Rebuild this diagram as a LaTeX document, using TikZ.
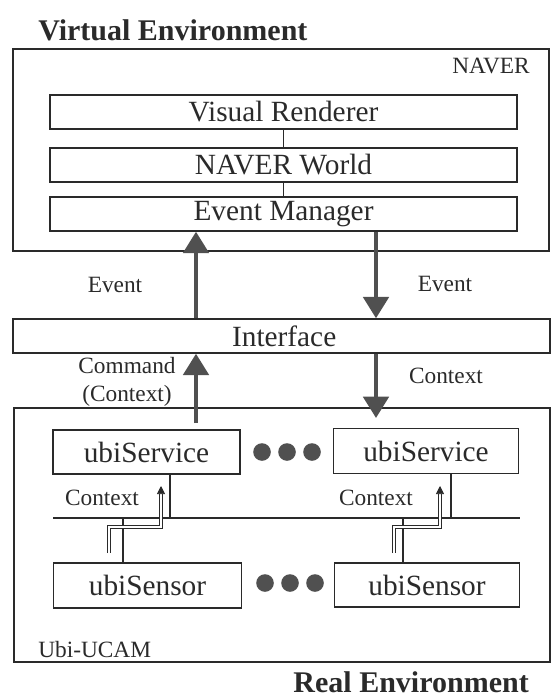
\documentclass[tikz,border=0pt]{standalone}
\usepackage{fontspec}
\setmainfont{Liberation Serif}
\usetikzlibrary{arrows.meta,calc}
\definecolor{ink}{HTML}{2A2A2A}
\definecolor{arrowgray}{HTML}{505050}
\begin{document}
\begin{tikzpicture}[x=0.75pt,y=-0.75pt,
  box/.style={draw=ink, line width=1.1pt, inner sep=0pt, text=ink,
    font=\fontsize{22}{26}\selectfont},
  outer/.style={draw=ink, line width=1.1pt, inner sep=0pt},
  lbl/.style={inner sep=0pt, text=ink, font=\fontsize{17.5}{21.5}\selectfont},
  heading/.style={inner sep=0pt, text=ink, font=\fontsize{22.5}{27}\selectfont\bfseries},
  bigarrow/.style={draw=arrowgray, line width=3pt, -{Triangle[width=19pt,length=16pt]}},
  wire/.style={draw=ink, line width=1.1pt},
  bus/.style={draw=ink, line width=1.7pt},
  ctx/.style={draw=ink, line width=0.5pt, double=white, double distance=1.3pt,
    -{Triangle[width=6pt,length=6pt]}},
  dot/.style={fill=arrowgray}
]
\useasboundingbox (0,0) rectangle (551,699);

% titles
\node[heading, anchor=west] (vtitle) at (38,30) {Virtual Environment};
\node[heading, anchor=east] (rtitle) at (529,682) {Real Environment};

% NAVER
\node[outer, minimum width=402pt, minimum height=151.5pt] (naver) at (281,150) {};
\node[lbl] (naverlbl) at (491,66) {NAVER};
\node[box, minimum width=350.25pt, minimum height=25.5pt] (vr) at (283.5,112) {Visual Renderer};
\node[box, minimum width=350.25pt, minimum height=25.5pt] (nw) at (283.5,165) {NAVER World};
\node[box, minimum width=350.25pt, minimum height=25.5pt] (em) at (283.5,214) {Event Manager};
\draw[wire] (vr.south) -- (nw.north);
\draw[wire] (nw.south) -- (em.north);

% Interface
\node[box, minimum width=402.75pt, minimum height=25.5pt] (iface) at (281.5,336) {\hspace{4pt}Interface};

% Ubi-UCAM
\node[outer, minimum width=402pt, minimum height=190.5pt] (ubi) at (282,535) {};
\node[lbl, anchor=west] (ubilbl) at (38,650) {Ubi-UCAM};

\node[box, minimum width=140pt, minimum height=33pt] (svc1) at (146.5,452) {ubiService};
\node[box, minimum width=139pt, minimum height=33.5pt] (svc2) at (426,451) {ubiService};
\node[box, minimum width=141pt, minimum height=33.5pt] (sen1) at (147.5,585.5) {ubiSensor};
\node[box, minimum width=139pt, minimum height=33pt] (sen2) at (427,585) {ubiSensor};

% dots
\foreach \x in {262,287,312} \fill[dot] (\x,452) circle[radius=6.6pt];
\foreach \x in {265,290,315} \fill[dot] (\x,583) circle[radius=6.6pt];

% main arrows
\coordinate (lx) at (196,0);
\coordinate (rx) at (376,0);
\coordinate (a3s) at (196,423);
\coordinate (a4e) at (376,418);
\draw[bigarrow] (iface.north -| lx) -- (em.south -| lx);
\draw[bigarrow] (em.south -| rx) -- (iface.north -| rx);
\draw[bigarrow] (a3s) -- (iface.south -| lx);
\draw[bigarrow] (iface.south -| rx) -- (a4e);

\node[lbl] (ev1) at (115,285) {Event};
\node[lbl] (ev2) at (445,284) {Event};
\node[lbl, align=center] (cmd) at (127,382) {Command\\(Context)};
\node[lbl] (ctxr) at (446,376) {Context};

% bus
\coordinate (busL) at (53,518);
\coordinate (busR) at (520,518);
\draw[bus] (busL) -- (busR);

\coordinate (c1) at (170,518);
\coordinate (c2) at (123,518);
\coordinate (c3) at (451,518);
\coordinate (c4) at (403,518);
\draw[wire] (svc1.south -| c1) -- (c1);
\draw[wire] (sen1.north -| c2) -- (c2);
\draw[wire] (svc2.south -| c3) -- (c3);
\draw[wire] (sen2.north -| c4) -- (c4);

% context arrows
\coordinate (p1) at (109,553);
\coordinate (k1) at (161,527);
\coordinate (t1) at (161,486);
\coordinate (p2) at (394,553);
\coordinate (k2) at (440,527);
\coordinate (t2) at (440,486);
\draw[ctx] (p1) |- (k1) -- (t1);
\draw[ctx] (p2) |- (k2) -- (t2);

\node[lbl] (ctx1) at (102,498) {Context};
\node[lbl] (ctx2) at (376,498) {Context};
\end{tikzpicture}
\end{document}
